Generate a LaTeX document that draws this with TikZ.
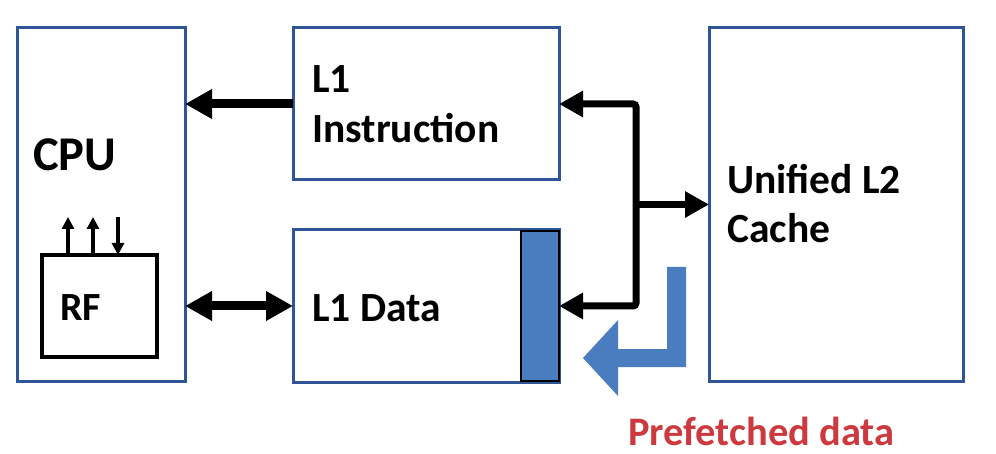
\documentclass[tikz,border=0pt]{standalone}
\usepackage{fontspec}
\setmainfont{Carlito}
\usetikzlibrary{arrows.meta,calc}
\definecolor{boxblue}{HTML}{2F5597}
\definecolor{fillblue}{HTML}{4A7CC0}
\definecolor{prered}{HTML}{CC3A40}
\tikzset{
  unit/.style={draw=boxblue, line width=3pt, inner sep=0pt, outer sep=0pt, rectangle},
  rfbox/.style={draw=black, line width=4pt, inner sep=0pt, outer sep=0pt, rectangle},
  lbl/.style={anchor=base west, inner sep=0pt, font=\fontsize{41.5}{50}\selectfont\bfseries},
  bigarrow/.style={line width=9pt, -{Triangle[length=27pt,width=28pt]}},
  bigdouble/.style={line width=9pt, {Triangle[length=27pt,width=28pt]}-{Triangle[length=27pt,width=28pt]}},
  busarrow/.style={line width=7pt, -{Triangle[length=24pt,width=25pt]}},
  busdouble/.style={line width=7pt, {Triangle[length=24pt,width=25pt]}-{Triangle[length=24pt,width=25pt]}, rounded corners=3pt},
  smallarrow/.style={line width=3.5pt, -{Triangle[length=12pt,width=12pt]}},
}
\begin{document}
\begin{tikzpicture}[x=1pt,y=-1pt]
\useasboundingbox (0,0) rectangle (996,454);
% boxes
\node[unit, minimum width=168pt, minimum height=353pt] (cpu) at (101,204.5) {};
\node[unit, minimum width=266pt, minimum height=152pt] (l1i) at (426,104) {};
\node[unit, minimum width=266pt, minimum height=152pt] (l1d) at (426,306) {};
\node[unit, minimum width=254pt, minimum height=353pt] (l2) at (836,204.5) {};
\node[rfbox, minimum width=115pt, minimum height=102pt] (rf) at (99.5,306) {};
\node[draw=black, line width=2pt, fill=fillblue, minimum width=38pt, minimum height=150pt, inner sep=0pt, outer sep=0pt] (pbuf) at (540,306) {};
% labels
\node[lbl, font=\fontsize{48.5}{58}\selectfont\bfseries] (cputxt) at (33,171) {CPU};
\node[lbl] (l1a) at (312,93) {L1};
\node[lbl] (l1b) at (312,143) {Instruction};
\node[lbl] (l1dtxt) at (312,322) {L1 Data};
\node[lbl, font=\fontsize{40}{48}\selectfont\bfseries] (rftxt) at (60,320) {RF};
\node[lbl] (l2a) at (727,194) {Unified L2};
\node[lbl] (l2b) at (727,243) {Cache};
\node[lbl, text=prered, font=\fontsize{40.5}{48}\selectfont\bfseries] (pretxt) at (628,445) {Prefetched data};
% connectors
\draw[bigarrow] (l1i.west) -- (cpu.east |- l1i.west);
\draw[bigdouble] (cpu.east |- l1d.west) -- (l1d.west);
\coordinate (bus) at (636,204);
\draw[busdouble] (l1i.east) -- (bus |- l1i.east) -- (bus |- l1d.east) -- (l1d.east);
\draw[busarrow] (bus |- l2.west) -- (l2.west);
% RF ports
\coordinate (p1) at (68,217);
\coordinate (p2) at (93,217);
\coordinate (p3) at (118,217);
\draw[smallarrow] (p1 |- rf.north) -- (p1);
\draw[smallarrow] (p2 |- rf.north) -- (p2);
\draw[smallarrow] (p3) -- (p3 |- rf.north);
% prefetch arrow
\fill[fillblue] (667,267) -- (686,267) -- (686,367) -- (618,367) -- (618,396) -- (583,358) -- (618,320) -- (618,349) -- (667,349) -- cycle;
\end{tikzpicture}
\end{document}
